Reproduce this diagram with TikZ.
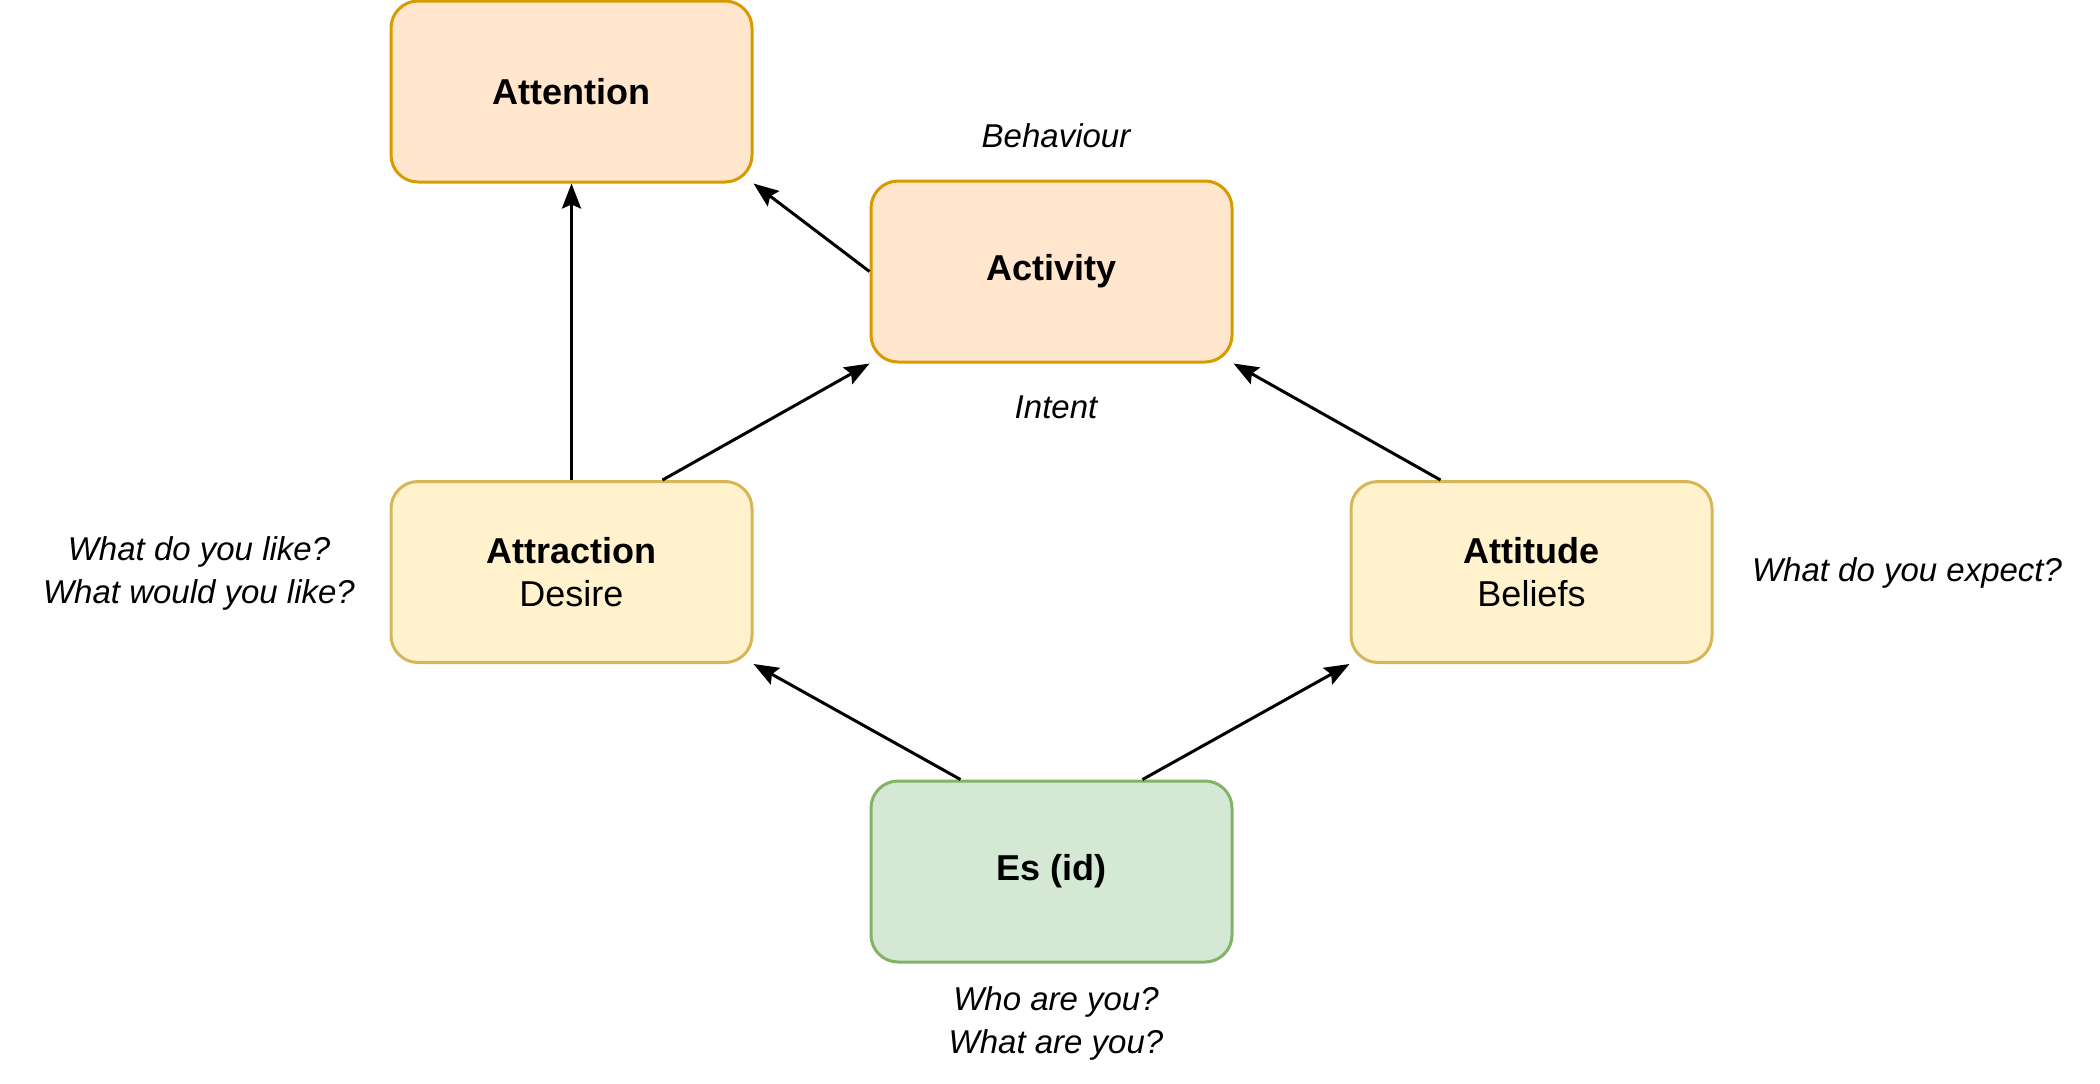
\documentclass[tikz,border=0pt]{standalone}
\usepackage{fontspec}
\setmainfont{Liberation Sans}
\usepackage{tikz}
\usetikzlibrary{calc,positioning,arrows.meta}
\definecolor{peachfill}{HTML}{FFE6CC}
\definecolor{peachline}{HTML}{D79B00}
\definecolor{sandfill}{HTML}{FFF2CC}
\definecolor{sandline}{HTML}{D6B656}
\definecolor{sagefill}{HTML}{D5E8D4}
\definecolor{sageline}{HTML}{82B366}
\tikzstyle{stage}  = [rectangle, rounded corners=13.5pt, minimum width=180.5pt, minimum height=90.5pt, line width=1.5pt, align=center, text centered, font=\fontsize{18}{21.6}\selectfont]
\tikzstyle{peach}  = [stage, draw=peachline, fill=peachfill]
\tikzstyle{sand}   = [stage, draw=sandline, fill=sandfill]
\tikzstyle{sage}   = [stage, draw=sageline, fill=sagefill]
\tikzstyle{note}   = [align=center, font=\fontsize{16.5}{21.5}\selectfont\itshape]
\tikzstyle{arrow}  = [line width=1.5pt, -{Stealth[length=12.5pt, width=9.5pt, inset=2pt]}]

\begin{document}
\begin{tikzpicture}[x=0.5pt, y=-0.5pt]
        \useasboundingbox (0,0) rectangle (2100,1083);

        % boxes
        \node[peach] (attention)  at (571.5,91.5)   {\textbf{Attention}};
        \node[peach] (activity)   at (1051.5,271.5) {\textbf{Activity}};
        \node[sand]  (attraction) at (571.5,572)    {\textbf{Attraction}\\Desire};
        \node[sand]  (attitude)   at (1531.5,572)   {\textbf{Attitude}\\Beliefs};
        \node[sage]  (es)         at (1051.5,871.5) {\textbf{Es (id)}};

        % side notes
        \node[note] (behaviour) at (1056,136)  {Behaviour};
        \node[note] (intent)    at (1056,407)  {Intent};
        \node[note] (like)      at (199,573)   {What do you like?\\What would you like?};
        \node[note] (expect)    at (1907,573)  {What do you expect?};
        \node[note] (who)       at (1056,1023) {Who are you?\\What are you?};

        % connectors
        \draw[arrow] (attraction.north) -- (attention.south);
        \draw[arrow] (activity.west) -- (attention.south east);
        \draw[arrow] ($(attraction.north west)!0.75!(attraction.north east)$) -- (activity.south west);
        \draw[arrow] ($(attitude.north west)!0.25!(attitude.north east)$) -- (activity.south east);
        \draw[arrow] ($(es.north west)!0.25!(es.north east)$) -- (attraction.south east);
        \draw[arrow] ($(es.north west)!0.75!(es.north east)$) -- (attitude.south west);
\end{tikzpicture}
\end{document}
